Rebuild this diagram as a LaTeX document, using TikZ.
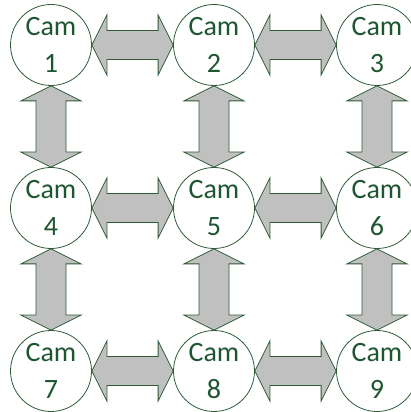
\documentclass[tikz,border=0pt]{standalone}
\usepackage{fontspec}
\setmainfont{Carlito}
\usetikzlibrary{calc}
\definecolor{camgreen}{HTML}{1E5631}
\definecolor{edgegreen}{HTML}{2E5A36}
\definecolor{arrowfill}{HTML}{C0C0C0}
\tikzset{
  cam/.style={circle, draw=edgegreen, line width=0.8pt, fill=white, minimum size=81pt, inner sep=0pt,
    align=center, text=camgreen, font=\fontsize{28}{36.6}\selectfont},
  arr/.style={draw=edgegreen, line width=0.8pt, fill=arrowfill, line join=miter}
}
\newcommand{\harr}[2]{%
  \draw[arr] let \p1=(#1.east), \p2=(#2.west) in
    (\x1,\y1) -- (\x1+15pt,\y1+30pt) -- (\x1+15pt,\y1+14.5pt) -- (\x2-15pt,\y1+14.5pt)
    -- (\x2-15pt,\y1+30pt) -- (\x2,\y1) -- (\x2-15pt,\y1-30pt) -- (\x2-15pt,\y1-14.5pt)
    -- (\x1+15pt,\y1-14.5pt) -- (\x1+15pt,\y1-30pt) -- cycle;}
\newcommand{\varr}[2]{%
  \draw[arr] let \p1=(#1.south), \p2=(#2.north) in
    (\x1,\y1) -- (\x1+30pt,\y1-15pt) -- (\x1+15pt,\y1-15pt) -- (\x1+15pt,\y2+15pt)
    -- (\x1+30pt,\y2+15pt) -- (\x1,\y2) -- (\x1-30pt,\y2+15pt) -- (\x1-15pt,\y2+15pt)
    -- (\x1-15pt,\y1-15pt) -- (\x1-30pt,\y1-15pt) -- cycle;}
\begin{document}
\begin{tikzpicture}[x=1pt,y=1pt]
\useasboundingbox (0,0) rectangle (411,412);
\begin{scope}
\clip (0,0) rectangle (411,412);
\node[cam] (c1) at (51,367) {Cam\\1};
\node[cam] (c2) at (214,367) {Cam\\2};
\node[cam] (c3) at (377,367) {Cam\\3};
\node[cam] (c4) at (51,204) {Cam\\4};
\node[cam] (c5) at (214,204) {Cam\\5};
\node[cam] (c6) at (377,204) {Cam\\6};
\node[cam] (c7) at (51,41) {Cam\\7};
\node[cam] (c8) at (214,41) {Cam\\8};
\node[cam] (c9) at (377,41) {Cam\\9};
\harr{c1}{c2}
\harr{c2}{c3}
\harr{c4}{c5}
\harr{c5}{c6}
\harr{c7}{c8}
\harr{c8}{c9}
\varr{c1}{c4}
\varr{c2}{c5}
\varr{c3}{c6}
\varr{c4}{c7}
\varr{c5}{c8}
\varr{c6}{c9}
\end{scope}
\end{tikzpicture}
\end{document}
